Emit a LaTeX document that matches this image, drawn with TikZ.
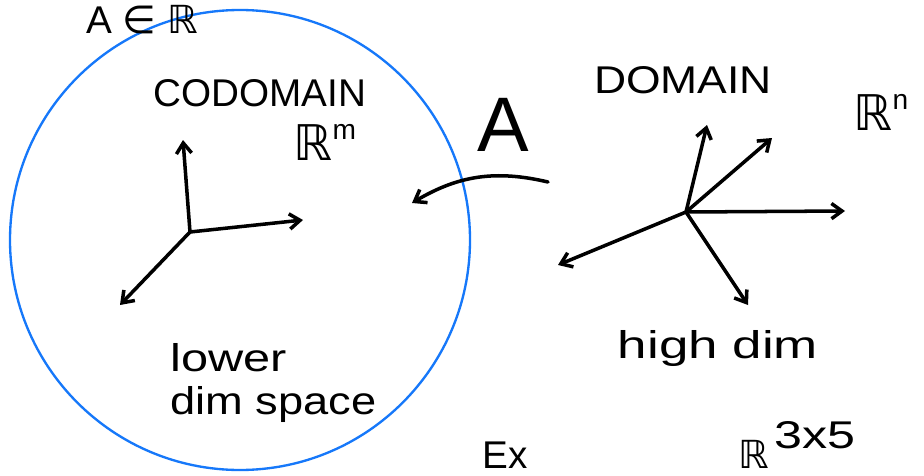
\documentclass[tikz,border=0pt]{standalone}
\usepackage{fontspec}
\setmainfont{Liberation Sans}
\newfontfamily\symf{DejaVu Sans}
\usetikzlibrary{arrows.meta}
\definecolor{ringblue}{RGB}{22,120,250}
\newcommand{\wide}[2]{\scalebox{#1}[1]{#2}}
\newcommand{\setR}[2]{{\symf\fontsize{#1}{#1}\selectfont ℝ}}
\tikzset{
  pen/.style={line width=3pt, line cap=round, ->, >={Straight Barb[length=9pt,width=13pt]}},
  hand/.style={inner sep=0pt, font=\fontsize{33}{36}\selectfont},
  big/.style={inner sep=0pt, font=\fontsize{66}{70}\selectfont},
  sup/.style={inner sep=0pt, font=\fontsize{24}{26}\selectfont}
}
\begin{document}
\begin{tikzpicture}[x=0.03cm, y=-0.03cm]
        \useasboundingbox (0,0) rectangle (924,476);
        \fill[white] (0,0) rectangle (924,476);

        % codomain
        \draw[ringblue, line width=2pt] (240,240) circle [radius=230];
        \coordinate (c0) at (190,232);
        \coordinate (c1) at (183,140);
        \coordinate (c2) at (303,220);
        \coordinate (c3) at (120,305);
        \draw[pen] (c0) -- (c1);
        \draw[pen] (c0) -- (c2);
        \draw[pen] (c0) -- (c3);
        \node[hand] (codomain) at (260,93) {CODOMAIN};
        \node[inner sep=0pt, anchor=base west] (rm) at (293,160) {\setR{42}{}};
        \node[sup, anchor=north west] (m) at (rm.north east) {m};
        \node[hand, align=left, anchor=base west] (lower) at (170,414) {\wide{1.26}{lower}\\\wide{1.17}{dim space}};

        % map A
        \node[big] (A) at (503,125) {A};
        \coordinate (a1) at (548,182);
        \coordinate (a2) at (412,203);
        \draw[pen] (a1) to[bend right=22] (a2);

        % domain
        \coordinate (d0) at (686,212);
        \coordinate (d1) at (707,125);
        \coordinate (d2) at (772,138);
        \coordinate (d3) at (845,211);
        \coordinate (d4) at (558,265);
        \coordinate (d5) at (748,305);
        \foreach \i in {1,...,5}
          \draw[pen] (d0) -- (d\i);
        \node[hand] (domain) at (683,80) {\wide{1.15}{DOMAIN}};
        \node[inner sep=0pt, anchor=base west] (rn) at (853,130) {\setR{42}{}};
        \node[sup, anchor=north west] (n) at (rn.north east) {n};
        \node[hand] (high) at (718,348) {\wide{1.37}{high dim}};

        % at the edges
        \node[hand, anchor=base west] (aer) at (86,33) {A {\symf∈} \setR{33}{}};
        \node[hand, anchor=base west] (ex) at (482,468) {Ex};
        \node[inner sep=0pt, anchor=base west] (r35) at (738,468) {\setR{33}{}};
        \node[hand, anchor=base west] (e35) at (774,448) {\wide{1.3}{3x5}};
      \end{tikzpicture}
\end{document}
